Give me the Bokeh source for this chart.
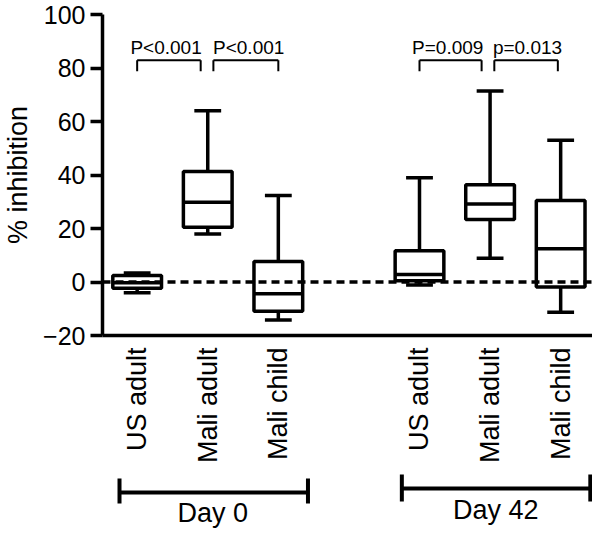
import numpy as np
from bokeh.plotting import figure
from bokeh.layouts import column
from bokeh.models import Range1d, FixedTicker, Span, ColumnDataSource
from bokeh.core.properties import value
from bokeh.embed import file_html
from bokeh.resources import INLINE

# ---- data ----
positions = [0, 1, 2, 4, 5, 6]
groups = ["US adult", "Mali adult", "Mali child", "US adult", "Mali adult", "Mali child"]
whisker_low = [-4.0, 17.9, -14.2, -1.1, 8.9, -11.3]
q1 = [-2.3, 20.5, -10.9, 0.5, 23.4, -1.9]
median = [-0.3, 29.8, -4.4, 2.8, 29.2, 12.4]
q3 = [2.4, 41.3, 7.7, 11.7, 36.4, 30.5]
whisker_high = [3.4, 64.0, 32.3, 39.0, 71.4, 53.0]

y_ticks = [-20, 0, 20, 40, 60, 80, 100]

# comparisons (brackets)
cmp_left = [0.0, 1.08, 4.0, 5.06]
cmp_right = [0.9, 2.0, 4.88, 5.96]
cmp_text = ["P<0.001", "P<0.001", "P=0.009", "p=0.013"]
cmp_text_x = [0.41, 1.58, 4.4, 5.53]

# time-point groups
day_labels = ["Day 0", "Day 42"]
day_left = [-0.25, 3.75]
day_right = [2.42, 6.42]
day_center = [1.07, 5.08]

FONT = "Liberation Sans"
W = 592
H1 = 466
H2 = 64

xr = Range1d(-0.491, 6.451)

p = figure(width=W, height=H1, output_backend="svg", toolbar_location=None,
           x_range=xr, y_range=Range1d(-20, 100),
           min_border=0, min_border_left=97, min_border_top=14,
           min_border_bottom=H1 - 337)
p.outline_line_color = None
p.grid.visible = False
p.background_fill_color = "white"
p.border_fill_color = "white"

# y axis
ax = p.yaxis[0]
ax.ticker = FixedTicker(ticks=y_ticks)
ax.axis_line_width = 3.5
ax.axis_line_color = "black"
ax.major_tick_line_width = 3.5
ax.major_tick_line_color = "black"
ax.major_tick_out = 12
ax.major_tick_in = 0
ax.minor_tick_line_color = None
ax.major_label_text_font = FONT
ax.major_label_text_font_size = "25px"
ax.major_label_text_color = "black"
ax.major_label_standoff = 5
ax.axis_label = "% inhibition"
ax.axis_label_text_font = FONT
ax.axis_label_text_font_size = "27px"
ax.axis_label_text_font_style = "normal"
ax.axis_label_text_color = "black"
ax.axis_label_standoff = 7

# x axis with rotated category labels
xa = p.xaxis[0]
xa.ticker = FixedTicker(ticks=positions)
xa.major_label_overrides = {pp: g for pp, g in zip(positions, groups)}
xa.major_label_orientation = np.pi / 2
xa.axis_line_width = 3.5
xa.axis_line_color = "black"
xa.major_tick_line_color = None
xa.major_tick_out = 0
xa.major_tick_in = 0
xa.minor_tick_line_color = None
xa.major_label_text_font = FONT
xa.major_label_text_font_size = "27px"
xa.major_label_text_color = "black"
xa.major_label_standoff = 12

pos = np.array(positions, dtype=float)
box_w = 0.69
cap_w = 0.38
src = ColumnDataSource(dict(
    x=pos, lo=whisker_low, q1=q1, med=median, q3=q3, hi=whisker_high,
    left=pos - box_w / 2, right=pos + box_w / 2,
    cl=pos - cap_w / 2, cr=pos + cap_w / 2,
))

LW = 3.5
p.segment(x0="x", y0="q3", x1="x", y1="hi", source=src, line_color="black", line_width=LW)
p.segment(x0="x", y0="lo", x1="x", y1="q1", source=src, line_color="black", line_width=LW)
p.segment(x0="cl", y0="hi", x1="cr", y1="hi", source=src, line_color="black", line_width=LW)
p.segment(x0="cl", y0="lo", x1="cr", y1="lo", source=src, line_color="black", line_width=LW)
p.quad(left="left", right="right", bottom="q1", top="q3", source=src,
       fill_alpha=0, line_color="black", line_width=LW)
p.segment(x0="left", y0="med", x1="right", y1="med", source=src, line_color="black", line_width=LW)

# zero reference
p.add_layout(Span(location=0, dimension="width", line_color="black", line_width=3.5,
                  line_dash="8 5"))

# comparison brackets
br_top, br_end = 82.9, 78.8
n = len(cmp_left)
p.segment(x0=cmp_left, y0=[br_top] * n, x1=cmp_right, y1=[br_top] * n,
          line_color="black", line_width=2)
p.segment(x0=cmp_left, y0=[br_top] * n, x1=cmp_left, y1=[br_end] * n,
          line_color="black", line_width=2)
p.segment(x0=cmp_right, y0=[br_top] * n, x1=cmp_right, y1=[br_end] * n,
          line_color="black", line_width=2)
p.text(x=cmp_text_x, y=[87.7] * n, text=cmp_text, text_align="center",
       text_baseline="middle", text_font=value(FONT), text_font_size="19px",
       text_color="black")

# ---- group brackets strip below (y measured downward in px) ----
q = figure(width=W, height=H2, output_backend="svg", toolbar_location=None,
           x_range=xr, y_range=Range1d(H2, 0),
           x_axis_location=None, y_axis_location=None,
           min_border=0, min_border_left=97)
q.outline_line_color = None
q.grid.visible = False
q.background_fill_color = "white"
q.border_fill_color = "white"

day_line_y = [26, 22]
day_end_top = [12, 8]
day_end_bot = [37, 35]
q.segment(x0=day_left, y0=day_line_y, x1=day_right, y1=day_line_y,
          line_color="black", line_width=4)
q.segment(x0=day_left, y0=day_end_top, x1=day_left, y1=day_end_bot,
          line_color="black", line_width=4)
q.segment(x0=day_right, y0=day_end_top, x1=day_right, y1=day_end_bot,
          line_color="black", line_width=4)
q.text(x=day_center, y=[46.6, 43.6], text=day_labels, text_align="center",
       text_baseline="middle", text_font=value(FONT), text_font_size="27px",
       text_color="black")

open("out.html", "w").write(file_html(column(p, q, spacing=0), INLINE))
